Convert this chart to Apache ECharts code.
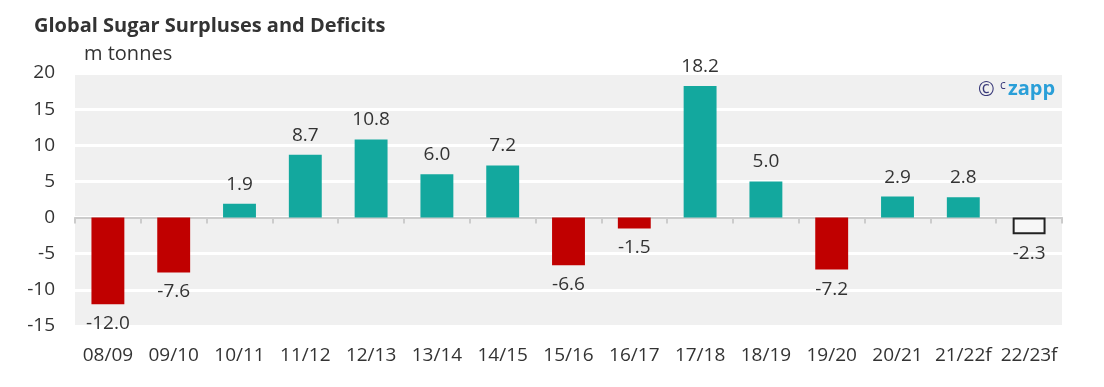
<!DOCTYPE html>
<html><head><meta charset="utf-8">
<script src="https://cdn.jsdelivr.net/npm/echarts@6/dist/echarts.min.js"></script>
<style>html,body{margin:0;padding:0;background:#fff}#c{width:1104px;height:387px}</style>
</head><body><div id="c"></div>
<script>
const categories = ['08/09','09/10','10/11','11/12','12/13','13/14','14/15','15/16','16/17','17/18','18/19','19/20','20/21','21/22f','22/23f'];
const values = [-12.0,-7.6,1.9,8.7,10.8,6.0,7.2,-6.6,-1.5,18.2,5.0,-7.2,2.9,2.8,-2.3];
const forecastFlags = [false,false,false,false,false,false,false,false,false,false,false,false,false,false,true];
const yTicks = [-15,-10,-5,0,5,10,15,20];

const font = '"Open Sans", "Noto Sans", sans-serif';
const chart = echarts.init(document.getElementById('c'));
const data = values.map((v,i)=>{
  let item = {value:v, label:{position: v>=0?'top':'bottom'}};
  if (forecastFlags[i]) {
    item.itemStyle = {color:'#f7f7f7', borderColor:'#222', borderWidth:2};
  } else {
    item.itemStyle = {color: v>=0 ? '#13a89e' : '#c00000'};
  }
  return item;
});
chart.setOption({
  animation:false,
  title:{text:'Global Sugar Surpluses and Deficits', left:29, top:11,
    textStyle:{fontFamily:font, fontSize:20, fontWeight:'bold', color:'#333'}},
  graphic:[
    {type:'text', left:84, top:44, style:{text:'m tonnes', font:'20px '+font, fill:'#333'}},
    {type:'text', left:978, top:80, style:{text:'©', font:'20px '+font, fill:'#3a3a7a'}},
    {type:'text', left:1000, top:80, style:{text:'c', font:'12px '+font, fill:'#3a3a7a'}},
    {type:'text', left:1008, top:79, style:{text:'zapp', font:'bold 20px '+font, fill:'#2a9fd8'}}
  ],
  grid:{left:75, right:42, top:73, bottom:61, show:true, backgroundColor:'#f0f0f0', borderWidth:0},
  xAxis:[{type:'category', data:categories,
    axisLine:{show:false, onZero:false}, axisTick:{show:false},
    axisLabel:{interval:0, fontFamily:font, fontSize:19, color:'#333', margin:20},
    position:'bottom'
  },{type:'category', data:categories,
    axisLine:{onZero:true, lineStyle:{color:'#cccccc', width:2}},
    axisTick:{show:true, length:6, lineStyle:{color:'#cccccc', width:2}},
    axisLabel:{show:false},
    position:'bottom'
  }],
  yAxis:{type:'value', min:-15, max:20, interval:5,
    axisLine:{show:false}, axisTick:{show:false},
    axisLabel:{fontFamily:font, fontSize:19, color:'#333', margin:20,
      formatter:v=>yTicks.includes(v)?String(v):''},
    splitLine:{lineStyle:{color:'#ffffff', width:3}}
  },
  series:[{type:'bar', xAxisIndex:0, data:data, barWidth:'50%', z:1,
    label:{show:true, fontFamily:font, fontSize:19, color:'#333', distance:10,
      formatter:p=>p.value.toFixed(1)}
  }]
});
</script></body></html>
